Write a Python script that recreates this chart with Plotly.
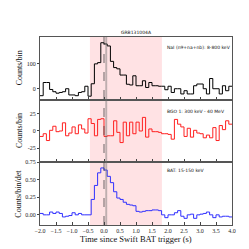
import numpy as np
import plotly.graph_objects as go
from plotly.subplots import make_subplots

# ---- data ----
bin_start = -2.0
bin_width = 0.1
nai_counts = [-28, 25, 25, -3, -12, -18, -15, -12, 0, -25,
              -25, -28, -15, -12, 10, -30, 20, 100, 105, 185,
              180, 172, 110, 85, 80, 55, 55, 18, 15, 52,
              12, 12, 32, 5, 25, 12, 12, 10, 10, -4,
              10, -15, 0, 0, -21, -8, -21, -21, 12, 19,
              19, 0, -21, 41, 0, 0, -21, 12, -8, 10]
bgo_counts = [-8, -4, -14, 1, 7, -1, 0, 12, -7, -3,
              6, -4, 9, 3, -3, 18, 11, -7, 17, 18,
              -8, -7, -7, 15, -2, -17, 13, -7, 13, -4,
              13, 0, 20, -9, 3, -1, -1, -2, -4, -4,
              -5, -12, 17, 10, 6, -8, 4, -9, 1, -3,
              -4, -10, -6, -10, 5, -14, 8, 2, 15, 10]
bat_rate = [0.02, 0.0, 0.0, 0.04, 0.02, 0.04, 0.02, -0.03, -0.02, -0.01,
            0.03, 0.0, 0.02, 0.0, 0.0, 0.0, 0.22, 0.42, 0.60, 0.67,
            0.64, 0.55, 0.46, 0.33, 0.24, 0.22, 0.18, 0.15, 0.14, 0.13,
            0.05, 0.04, 0.05, 0.06, 0.06, 0.07, 0.07, 0.06, 0.0, -0.04,
            0.0, 0.0, 0.03, 0.06, -0.02, -0.05, 0.0, 0.01, -0.05, 0.0,
            0.01, 0.02, 0.04, 0.0, -0.04, 0.0, -0.03, -0.02, -0.02, -0.03]
burst_interval = (-0.44, 1.81)
grey_band = (0.04, 0.10)
title = "GRB131004A"
labels = ["NaI (n9+na+nb): 8-800 keV", "BGO 1: 300 keV - 40 MeV", "BAT: 15-150 keV"]
ytitles = ["Counts/bin", "Counts/bin", "Counts/bin/det"]
xtitle = "Time since Swift BAT trigger (s)"

n = len(nai_counts)
edges = bin_start + bin_width * np.arange(n + 1)

def steps(vals):
    return list(vals) + [vals[-1]]

fig = make_subplots(rows=3, cols=1, shared_xaxes=True, vertical_spacing=0)

series = [(nai_counts, "#000000", "#aaaaaa"),
          (bgo_counts, "#ff2020", "#ffb0b0"),
          (bat_rate, "#3030ff", "#b0b0ff")]
for i, (vals, col, zcol) in enumerate(series, start=1):
    fig.add_hline(y=0, line=dict(color=zcol, width=1), row=i, col=1, layer="below")
    fig.add_trace(go.Scatter(x=edges, y=steps(vals), mode="lines",
                             line=dict(color=col, width=1, shape="hv"),
                             showlegend=False, hoverinfo="skip"), row=i, col=1)

# shaded regions
fig.add_shape(type="rect", xref="x", yref="paper", x0=burst_interval[0], x1=burst_interval[1],
              y0=0, y1=1, fillcolor="rgba(255,190,195,0.45)", line_width=0, layer="below")
fig.add_shape(type="rect", xref="x", yref="paper", x0=grey_band[0], x1=grey_band[1],
              y0=0, y1=1, fillcolor="rgba(110,110,110,0.45)", line_width=0, layer="above")
fig.add_shape(type="line", xref="x", yref="paper", x0=0, x1=0, y0=0, y1=1,
              line=dict(color="#444444", width=0.8, dash="dash"), layer="above")

yranges = [[-44, 208], [-46, 46], [-0.145, 0.75]]
ytickvals = [[0, 100], [-25, 0, 25], [0, 0.25, 0.5, 0.75]]
yticktext = [["0", "100"], ["-25", "0", "25"], ["0.00", "0.25", "0.50", "0.75"]]
tickfont = dict(family="Liberation Serif", size=6, color="#222222")
for i in range(1, 4):
    fig.update_yaxes(range=yranges[i-1], tickvals=ytickvals[i-1], ticktext=yticktext[i-1],
                     ticks="outside", ticklen=2, tickcolor="#444444", tickfont=tickfont,
                     showgrid=False, zeroline=False, showline=True, linecolor="#555555",
                     linewidth=1, mirror=True, row=i, col=1)
    fig.update_xaxes(range=[-2.0, 4.0], dtick=0.5, tick0=-2.0, ticks="inside", ticklen=3,
                     tickcolor="#444444", showgrid=False, zeroline=False, showline=True,
                     linecolor="#555555", linewidth=1, mirror=True, tickfont=tickfont,
                     showticklabels=(i == 3), tickformat=".1f", row=i, col=1)

# panel labels
lab_y = [0.825, 0.81, 0.87]
for i in range(3):
    yref = "y domain" if i == 0 else f"y{i+1} domain"
    fig.add_annotation(text=labels[i], x=1.9, xref="x", y=lab_y[i], yref=yref,
                       xanchor="left", yanchor="middle", showarrow=False,
                       font=dict(family="DejaVu Sans", size=4.5, color="#111111"))
    fig.add_annotation(text=ytitles[i], x=0, xref="paper", xshift=-21, y=0.5, yref=yref,
                       textangle=-90, xanchor="center", yanchor="middle", showarrow=False,
                       font=dict(family="Liberation Serif", size=8, color="#111111"))

fig.add_annotation(text=title, x=0.5, xref="paper", y=1, yref="paper", yanchor="bottom",
                   yshift=0, showarrow=False,
                   font=dict(family="DejaVu Sans", size=4.5, color="#111111"))
fig.add_annotation(text=xtitle, x=0.5, xref="paper", y=0, yref="paper", yanchor="top",
                   yshift=-7, showarrow=False,
                   font=dict(family="Liberation Serif", size=8.5, color="#111111"))

fig.update_layout(width=249, height=249, margin=dict(l=32, r=25, t=29, b=32),
                  plot_bgcolor="white", paper_bgcolor="white")
fig.write_html("out.html")
